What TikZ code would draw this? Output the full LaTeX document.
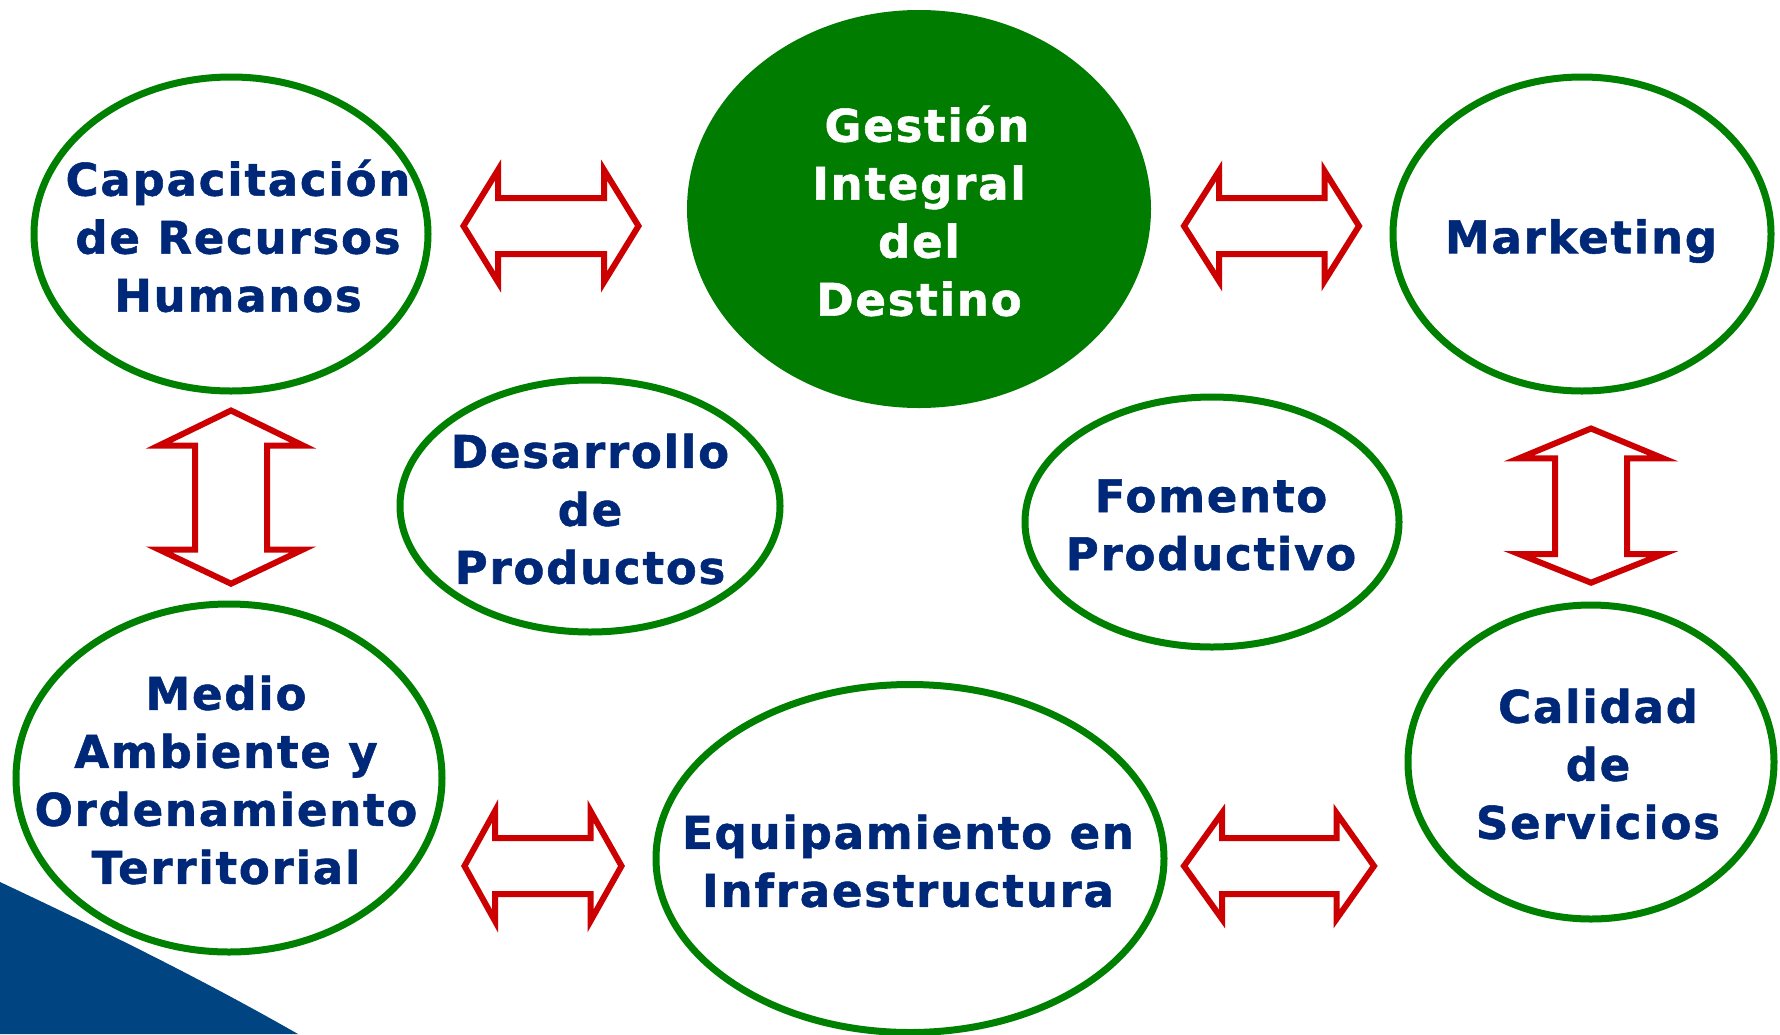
\documentclass[tikz,border=0pt]{standalone}
\usepackage{fontspec}
\setmainfont{DejaVu Sans}[LetterSpace=4, BoldFeatures={FakeBold=1.2}]
\usetikzlibrary{shapes.geometric}
\definecolor{navy}{RGB}{0,40,120}
\definecolor{ringgreen}{RGB}{0,128,0}
\definecolor{fillgreen}{RGB}{0,125,0}
\definecolor{arrowred}{RGB}{204,0,0}
\definecolor{swooshblue}{RGB}{0,69,130}
\begin{document}
\begin{tikzpicture}[x=1pt,y=-1pt,
  ring/.style={ellipse, draw=ringgreen, line width=7pt, inner sep=0pt},
  hub/.style={ellipse, fill=fillgreen, inner sep=0pt},
  lbl/.style={text=navy, font=\bfseries\fontsize{45}{58}\selectfont, align=center, inner sep=0pt},
  hublbl/.style={lbl, text=white},
  darrow/.style={draw=arrowred, line width=6pt, fill=white, line join=miter, miter limit=20}]
\useasboundingbox (0,0) rectangle (1780,1034);
\fill[white] (0,0) rectangle (1780,1034);
% swoosh
\fill[swooshblue] (0,882) .. controls (100,929) and (200,978) .. (298,1034) -- (0,1034) -- cycle;
% ellipses
\node[ring, minimum width=394pt, minimum height=314pt] (e1) at (231,234) {};
\node[hub, minimum width=464pt, minimum height=398pt] (e2) at (919,209) {};
\node[ring, minimum width=378pt, minimum height=314pt] (e3) at (1582,234) {};
\node[ring, minimum width=380pt, minimum height=252pt] (e4) at (590,506) {};
\node[ring, minimum width=374pt, minimum height=250pt] (e5) at (1212,522) {};
\node[ring, minimum width=426pt, minimum height=348pt] (e6) at (229,778) {};
\node[ring, minimum width=508pt, minimum height=348pt] (e7) at (910,858.5) {};
\node[ring, minimum width=366pt, minimum height=314pt] (e8) at (1591,762) {};
% labels
\node[lbl] (t1) at (238,236) {Capacitación\\de Recursos\\Humanos};
\node[hublbl] (t2) at (919,211) {\hspace*{16pt}Gestión\\Integral\\del\hspace*{16pt}\\Destino};
\node[lbl] (t3) at (1581,241) {Marketing};
\node[lbl] (t4) at (590,509) {Desarrollo\\de\\Productos};
\node[lbl] (t5) at (1211,525) {Fomento\\Productivo};
\node[lbl] (t6) at (226,780) {Medio\\Ambiente y\\Ordenamiento\\Territorial};
\node[lbl] (t7) at (908,861) {Equipamiento en\\Infraestructura};
\node[lbl] (t8) at (1598,764) {Calidad\\de\\Servicios};
% horizontal double arrows
\draw[darrow] (463.5,226) -- (498,170) -- (498,198) -- (604,198) -- (604,170) -- (638.5,226) -- (604,282) -- (604,254) -- (498,254) -- (498,282) -- cycle;
\draw[darrow] (1184,226) -- (1219,171) -- (1219,198) -- (1324.5,198) -- (1324.5,171) -- (1359,226) -- (1324.5,281) -- (1324.5,254) -- (1219,254) -- (1219,281) -- cycle;
\draw[darrow] (464.5,866) -- (495,811) -- (495,838) -- (590.5,838) -- (590.5,811) -- (621.5,866) -- (590.5,921) -- (590.5,894) -- (495,894) -- (495,921) -- cycle;
\draw[darrow] (1184,866) -- (1222,813) -- (1222,838) -- (1336.5,838) -- (1336.5,813) -- (1374,866) -- (1336.5,919) -- (1336.5,894) -- (1222,894) -- (1222,919) -- cycle;
% vertical double arrows
\draw[darrow] (231,410.5) -- (159,445.5) -- (195,445.5) -- (195,549.5) -- (159,549.5) -- (231,583.7) -- (303,549.5) -- (267,549.5) -- (267,445.5) -- (303,445.5) -- cycle;
\draw[darrow] (1591,428.5) -- (1519,458.3) -- (1555,458.3) -- (1555,554) -- (1519,554) -- (1591,582.7) -- (1663,554) -- (1627,554) -- (1627,458.3) -- (1663,458.3) -- cycle;
\end{tikzpicture}
\end{document}
